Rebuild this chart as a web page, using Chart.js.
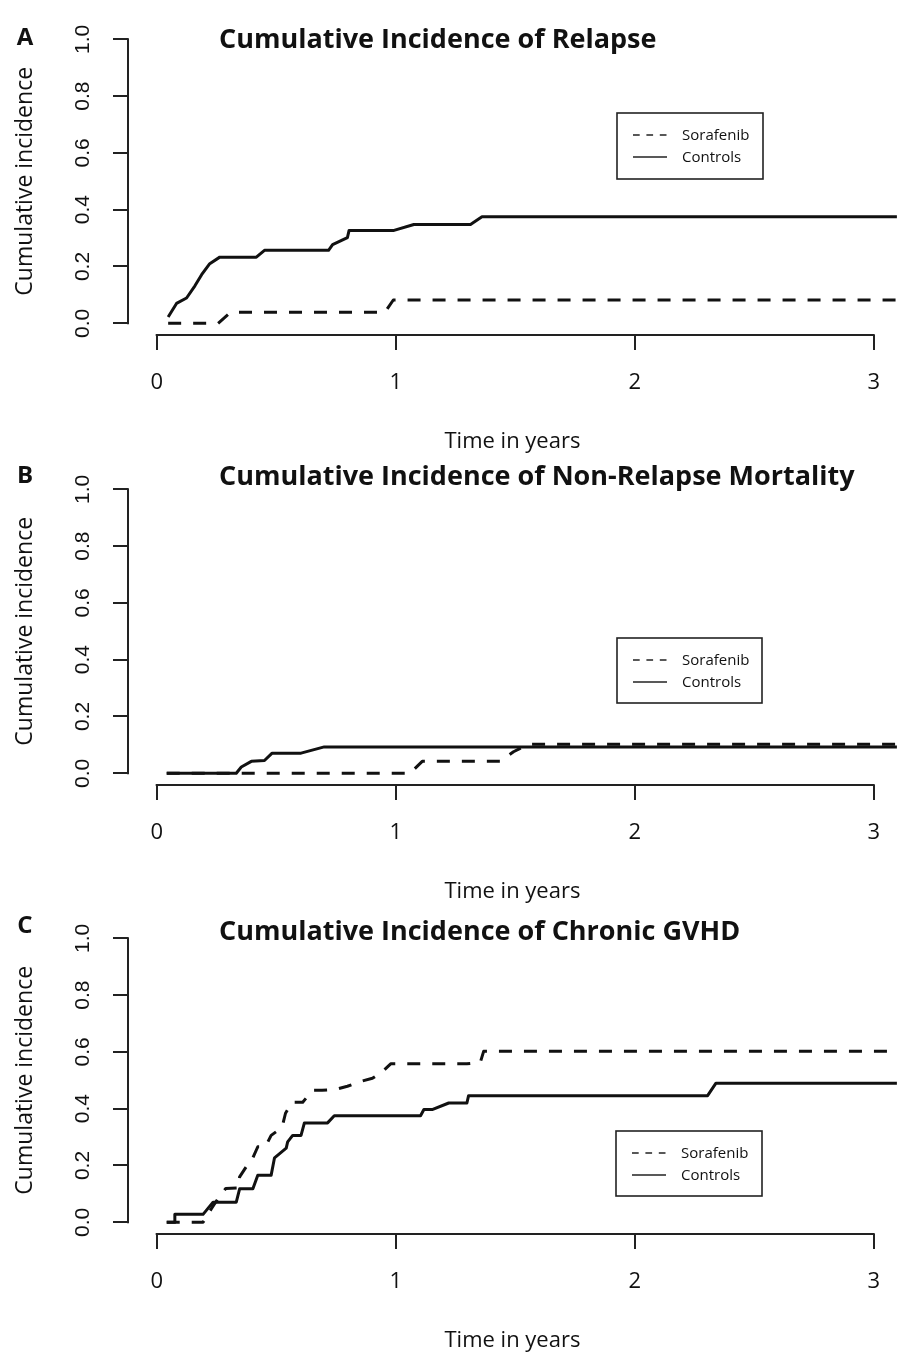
<!DOCTYPE html>
<html><head><meta charset="utf-8">
<script src="https://cdn.jsdelivr.net/npm/chart.js@4.4.0/dist/chart.umd.min.js"></script>
<style>
html,body{margin:0;padding:0;background:#fff;overflow:hidden;}
#wrap{position:relative;width:900px;height:1355px;overflow:hidden;}
canvas{position:absolute;left:0;}
</style></head><body><div id="wrap">
<canvas id="cA" width="900" height="470" style="top:0px"></canvas>
<canvas id="cB" width="900" height="470" style="top:450px"></canvas>
<canvas id="cC" width="900" height="470" style="top:899px"></canvas>
</div>
<script>
// ---- texts / ticks ----
const seriesLabels = ['Sorafenib', 'Controls'];
const panelLetters = ['A', 'B', 'C'];
const panelTitles = ['Cumulative Incidence of Relapse', 'Cumulative Incidence of Non-Relapse Mortality', 'Cumulative Incidence of Chronic GVHD'];
const yTickValues = [0, 0.2, 0.4, 0.6, 0.8, 1.0];
const xTickValues = [0, 1, 2, 3];
const xAxisTitle = 'Time in years';
const yAxisTitle = 'Cumulative incidence';

// ---- A: relapse ----
const relapseSorafenibTime = [0.048, 0.257, 0.31, 0.955, 0.99, 3.3];
const relapseSorafenibCI   = [0, 0, 0.039, 0.039, 0.082, 0.082];
const relapseControlsTime = [0.048, 0.083, 0.125, 0.160, 0.188, 0.222, 0.264, 0.417, 0.451, 0.719, 0.736, 0.798, 0.805, 0.993, 1.076, 1.313, 1.361, 3.3];
const relapseControlsCI   = [0.022, 0.070, 0.089, 0.132, 0.171, 0.210, 0.233, 0.233, 0.257, 0.257, 0.277, 0.302, 0.327, 0.327, 0.348, 0.348, 0.375, 0.375];

// ---- B: non-relapse mortality ----
const nrmSorafenibTime = [0.042, 1.06, 1.111, 1.4375, 1.493, 1.521, 1.56, 3.3];
const nrmSorafenibCI   = [0, 0, 0.042, 0.042, 0.076, 0.088, 0.102, 0.102];
const nrmControlsTime = [0.042, 0.333, 0.354, 0.396, 0.451, 0.483, 0.604, 0.701, 3.3];
const nrmControlsCI   = [0, 0, 0.022, 0.042, 0.045, 0.071, 0.071, 0.093, 0.093];

// ---- C: chronic GVHD ----
const gvhdSorafenibTime = [0.042, 0.194, 0.229, 0.264, 0.289, 0.344, 0.347, 0.375, 0.4025, 0.423, 0.455, 0.479, 0.5, 0.5275, 0.539, 0.567, 0.611, 0.6525, 0.692, 0.75, 0.798, 0.854, 0.9025, 0.944, 0.979, 1.298, 1.354, 1.368, 3.3];
const gvhdSorafenibCI   = [0, 0, 0.048, 0.093, 0.119, 0.121, 0.160, 0.196, 0.227, 0.266, 0.266, 0.306, 0.319, 0.345, 0.384, 0.423, 0.423, 0.465, 0.465, 0.468, 0.479, 0.496, 0.507, 0.530, 0.558, 0.558, 0.563, 0.602, 0.602];
const gvhdControlsTime = [0.042, 0.076, 0.076, 0.194, 0.236, 0.333, 0.347, 0.4025, 0.423, 0.479, 0.493, 0.542, 0.548, 0.569, 0.604, 0.618, 0.715, 0.743, 1.104, 1.118, 1.1525, 1.222, 1.298, 1.305, 2.305, 2.34, 3.3];
const gvhdControlsCI   = [0, 0, 0.028, 0.028, 0.071, 0.071, 0.118, 0.118, 0.166, 0.166, 0.227, 0.261, 0.283, 0.306, 0.306, 0.350, 0.350, 0.375, 0.375, 0.397, 0.397, 0.420, 0.420, 0.446, 0.446, 0.490, 0.490];

function pts(t, v) { return t.map((x, i) => ({ x: x, y: v[i] })); }

const INK = '#111';

// R-style axis lines spanning only the tick range
const axisPlugin = {
  id: 'rAxes',
  afterDraw(chart) {
    const { ctx, chartArea: a, scales: { x, y } } = chart;
    ctx.save();
    ctx.strokeStyle = '#222';
    ctx.lineWidth = 2;
    ctx.lineCap = 'square';
    ctx.beginPath();
    ctx.moveTo(a.left, y.getPixelForValue(yTickValues[0]));
    ctx.lineTo(a.left, y.getPixelForValue(yTickValues[yTickValues.length - 1]));
    ctx.moveTo(x.getPixelForValue(xTickValues[0]), a.bottom);
    ctx.lineTo(x.getPixelForValue(xTickValues[xTickValues.length - 1]), a.bottom);
    ctx.stroke();
    ctx.restore();
  }
};

const panelPlugin = {
  id: 'panelText',
  afterDraw(chart, args, o) {
    const ctx = chart.ctx;
    ctx.save();
    ctx.fillStyle = INK;
    ctx.textBaseline = 'alphabetic';
    ctx.textAlign = 'center';
    ctx.font = 'bold 24px "Open Sans"';
    ctx.fillText(o.letter, o.letterX, o.letterY);
    ctx.textAlign = 'left';
    ctx.font = 'bold 27px "Open Sans"';
    ctx.fillText(o.title, o.titleX, o.titleY);
    ctx.restore();
  }
};

const legendPlugin = {
  id: 'boxLegend',
  afterDraw(chart, args, o) {
    const ctx = chart.ctx;
    ctx.save();
    ctx.strokeStyle = '#222';
    ctx.lineWidth = 1.6;
    ctx.strokeRect(o.x, o.y, o.w, o.h);
    ctx.font = '15px "Open Sans"';
    ctx.fillStyle = INK;
    ctx.textBaseline = 'middle';
    ctx.textAlign = 'left';
    chart.data.datasets.forEach((ds, i) => {
      const yy = o.y + 22 + 22 * i;
      ctx.setLineDash(ds.borderDash && ds.borderDash.length ? [6.7, 6.7] : []);
      ctx.lineWidth = 1.6;
      ctx.beginPath();
      ctx.moveTo(o.x + 16, yy);
      ctx.lineTo(o.x + 50, yy);
      ctx.stroke();
      ctx.setLineDash([]);
      ctx.fillText(ds.label, o.x + 65, yy + 1);
    });
    ctx.restore();
  }
};

const gridOpts = { display: true, drawOnChartArea: false, drawTicks: true, tickLength: 15, color: '#222', lineWidth: 2 };

function makeChart(id, idx, sT, sV, cT, cV, legendBox, txt) {
  return new Chart(document.getElementById(id), {
    type: 'line',
    data: {
      datasets: [
        { label: seriesLabels[0], data: pts(sT, sV), borderColor: INK, borderWidth: 3, borderDash: [13, 12],
          pointRadius: 0, tension: 0, fill: false, borderJoinStyle: 'round' },
        { label: seriesLabels[1], data: pts(cT, cV), borderColor: INK, borderWidth: 3,
          pointRadius: 0, tension: 0, fill: false, borderJoinStyle: 'round' }
      ]
    },
    options: {
      responsive: false, animation: false, events: [],
      layout: { padding: { left: 0, right: 0, top: 12, bottom: 0 } },
      plugins: {
        legend: { display: false }, title: { display: false }, tooltip: { enabled: false },
        panelText: Object.assign({ letter: panelLetters[idx], title: panelTitles[idx] }, txt),
        boxLegend: legendBox
      },
      scales: {
        x: {
          type: 'linear', min: -0.12, max: 3.097,
          afterBuildTicks(s) { s.ticks = xTickValues.map(v => ({ value: v })); },
          afterFit(s) { s.height = 470 - 335; },
          grid: gridOpts, border: { display: false },
          ticks: { font: { family: 'Open Sans', size: 22 }, color: INK, padding: 20, maxRotation: 0, autoSkip: false,
                   callback: v => String(v) },
          title: { display: true, text: xAxisTitle, font: { family: 'Open Sans', size: 22 }, color: INK,
                   padding: { top: 0, bottom: 15 } }
        },
        y: {
          type: 'linear', min: -0.0412, max: 1.0412,
          afterBuildTicks(s) { s.ticks = yTickValues.map(v => ({ value: v })); },
          afterFit(s) { s.width = 128; },
          grid: gridOpts, border: { display: false },
          ticks: { font: { family: 'Liberation Sans', size: 21 }, color: INK, padding: 15, minRotation: 90, maxRotation: 90,
                   crossAlign: 'center', autoSkip: false, callback: v => v.toFixed(1) },
          title: { display: true, text: yAxisTitle, font: { family: 'Open Sans', size: 23 }, color: INK,
                   padding: { top: 12, bottom: 0 } }
        }
      }
    },
    plugins: [axisPlugin, panelPlugin, legendPlugin]
  });
}

makeChart('cA', 0, relapseSorafenibTime, relapseSorafenibCI, relapseControlsTime, relapseControlsCI,
  { x: 617, y: 113, w: 146, h: 66 }, { letterX: 25, letterY: 45, titleX: 219, titleY: 48 });
makeChart('cB', 1, nrmSorafenibTime, nrmSorafenibCI, nrmControlsTime, nrmControlsCI,
  { x: 617, y: 188, w: 145, h: 65 }, { letterX: 25, letterY: 33, titleX: 219, titleY: 35 });
makeChart('cC', 2, gvhdSorafenibTime, gvhdSorafenibCI, gvhdControlsTime, gvhdControlsCI,
  { x: 616, y: 232, w: 146, h: 65 }, { letterX: 25, letterY: 34, titleX: 219, titleY: 41 });
</script>
</body></html>
